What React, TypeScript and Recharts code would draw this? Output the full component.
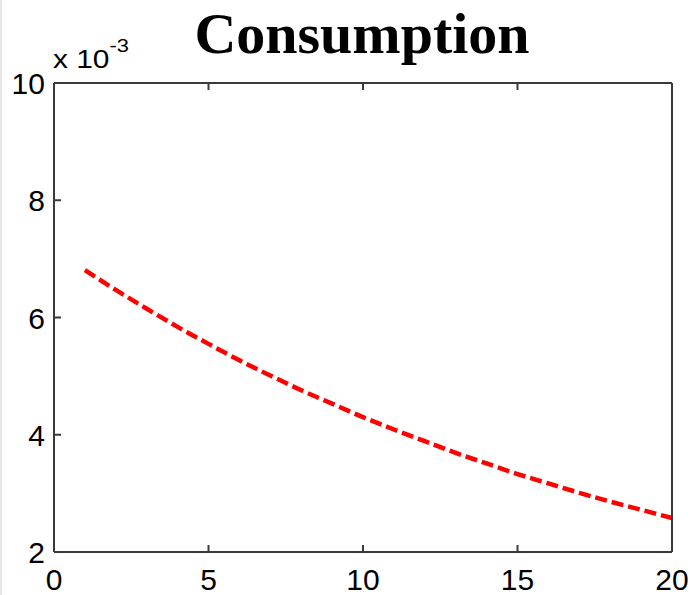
import { Line, LineChart, XAxis, YAxis } from "recharts";

const periods = [1, 2, 3, 4, 5, 6, 7, 8, 9, 10, 11, 12, 13, 14, 15, 16, 17, 18, 19, 20];
const consumption = [
  0.00681, 0.00647, 0.00615, 0.00584, 0.00555, 0.00527, 0.00501, 0.00476, 0.00453, 0.0043,
  0.00409, 0.00389, 0.00369, 0.00351, 0.00333, 0.00317, 0.00301, 0.00286, 0.00272, 0.00258,
];
const xTicks = [0, 5, 10, 15, 20];
const yTicks = [0.002, 0.004, 0.006, 0.008, 0.01];

const data = periods.map((t, i) => ({ t, c: consumption[i] }));

const AXIS = "#3a3a3a";
const FONT = "'Liberation Sans', Arial, sans-serif";
const TICK_LEN = 7;
// tickSize 0 falls back to the default, so use something tiny
const NO_SIZE = 0.0001;

// ticks point into the plot, matlab style
function BottomTick({ x, y, payload }: any) {
  return (
    <g>
      <line x1={x} y1={y} x2={x} y2={y - TICK_LEN} stroke={AXIS} strokeWidth={2} />
      <text x={x} y={y + 38} textAnchor="middle" fontSize={30} fontFamily={FONT} fill="#000">
        {payload.value}
      </text>
    </g>
  );
}

function TopTick({ x, y }: any) {
  return <line x1={x} y1={y} x2={x} y2={y + TICK_LEN} stroke={AXIS} strokeWidth={2} />;
}

function LeftTick({ x, y, payload }: any) {
  return (
    <g>
      <line x1={x} y1={y} x2={x + TICK_LEN} y2={y} stroke={AXIS} strokeWidth={2} />
      <text x={x - 9} y={y + 11} textAnchor="end" fontSize={30} fontFamily={FONT} fill="#000">
        {Math.round(payload.value * 1000)}
      </text>
    </g>
  );
}

function RightTick({ x, y }: any) {
  return <line x1={x} y1={y} x2={x - TICK_LEN} y2={y} stroke={AXIS} strokeWidth={2} />;
}

export default function App() {
  return (
    <div style={{ position: "absolute", left: 0, top: 0, width: 693, height: 595, background: "#fff" }}>
      <div style={{ position: "absolute", left: 0, top: 0, width: 2, height: 595, background: "#e6e6e6" }} />
      <LineChart
        width={693}
        height={595}
        data={data}
        margin={{ top: 82, right: 20, bottom: 0, left: 0 }}
      >
        <XAxis
          dataKey="t"
          type="number"
          domain={[0, 20]}
          ticks={xTicks}
          height={43}
          stroke={AXIS}
          strokeWidth={2}
          tickLine={false}
          tickSize={NO_SIZE}
          tickMargin={0}
          tick={<BottomTick />}
        />
        <XAxis
          xAxisId="top"
          orientation="top"
          dataKey="t"
          type="number"
          domain={[0, 20]}
          ticks={xTicks}
          height={1}
          stroke={AXIS}
          strokeWidth={2}
          tickLine={false}
          tickSize={NO_SIZE}
          tickMargin={0}
          tick={<TopTick />}
        />
        <YAxis
          type="number"
          domain={[0.002, 0.01]}
          ticks={yTicks}
          width={54}
          stroke={AXIS}
          strokeWidth={2}
          tickLine={false}
          tickSize={NO_SIZE}
          tickMargin={0}
          tick={<LeftTick />}
        />
        <YAxis
          yAxisId="right"
          orientation="right"
          type="number"
          domain={[0.002, 0.01]}
          ticks={yTicks}
          width={1}
          stroke={AXIS}
          strokeWidth={2}
          tickLine={false}
          tickSize={NO_SIZE}
          tickMargin={0}
          tick={<RightTick />}
        />
        <Line
          type="monotone"
          dataKey="c"
          stroke="#ff0000"
          strokeWidth={4.5}
          strokeDasharray="12 5"
          dot={false}
          isAnimationActive={false}
        />
      </LineChart>
      <svg
        width={693}
        height={595}
        style={{ position: "absolute", left: 0, top: 0, pointerEvents: "none" }}
      >
        <text
          x={362}
          y={53}
          textAnchor="middle"
          fontSize={58}
          fontWeight="bold"
          fontFamily="'Liberation Serif', 'Times New Roman', serif"
          fill="#000"
        >
          Consumption
        </text>
        <text
          x={0}
          y={0}
          transform="translate(53,68) scale(1.15,1)"
          fontSize={26}
          fontFamily={FONT}
          fill="#000"
        >
          x 10
          <tspan fontSize={19} dy={-16}>-3</tspan>
        </text>
      </svg>
    </div>
  );
}
